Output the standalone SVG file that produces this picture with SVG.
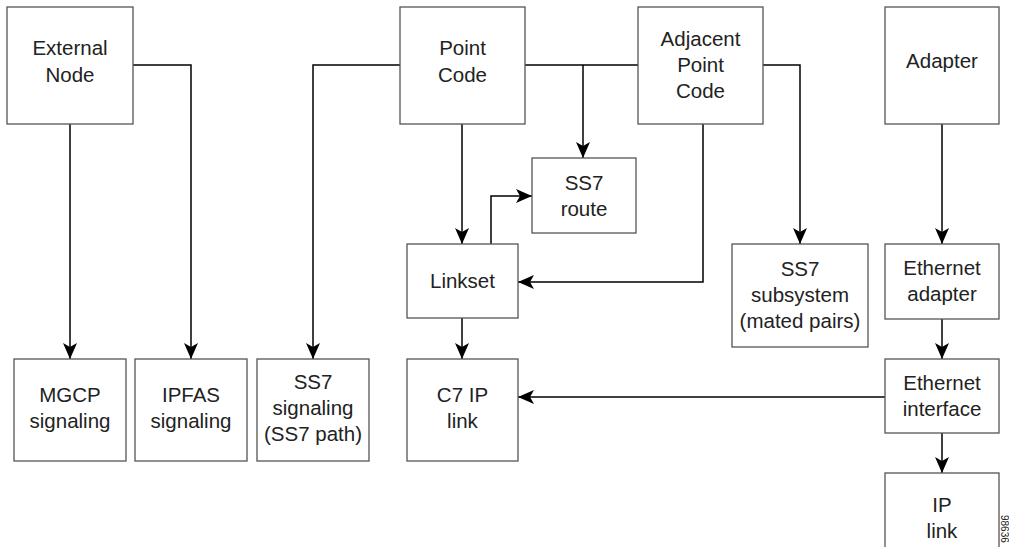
<svg xmlns="http://www.w3.org/2000/svg" width="1009" height="547" viewBox="0 0 1009 547">
<defs>
<style>
.box{fill:#fff;stroke:#555;stroke-width:1.3}
.lbl{font-family:"Liberation Sans",Arial,sans-serif;font-size:20.5px;fill:#222;text-anchor:middle}
.con{fill:none;stroke:#000;stroke-width:1.5}
.fig{font-family:"Liberation Sans",Arial,sans-serif;font-size:10px;fill:#222}
</style>
<marker id="ah" viewBox="0 0 16 14" refX="16" refY="7" markerWidth="16" markerHeight="14" markerUnits="userSpaceOnUse" orient="auto">
<path d="M0,0 L16,7 L0,14 L4,7 z" fill="#000"/>
</marker>
</defs>
<rect width="1009" height="547" fill="#fff"/>
<g id="connectors">
<path class="con" d="M70,124 V359" marker-end="url(#ah)"/>
<path class="con" d="M133,65 H191 V359" marker-end="url(#ah)"/>
<path class="con" d="M400,65 H313 V359" marker-end="url(#ah)"/>
<path class="con" d="M525,65 H638"/>
<path class="con" d="M583,65 V158" marker-end="url(#ah)"/>
<path class="con" d="M462,124 V244" marker-end="url(#ah)"/>
<path class="con" d="M491,244 V196 H532" marker-end="url(#ah)"/>
<path class="con" d="M703,124 V282 H518" marker-end="url(#ah)"/>
<path class="con" d="M763,65 H800 V244" marker-end="url(#ah)"/>
<path class="con" d="M462,318 V359" marker-end="url(#ah)"/>
<path class="con" d="M942,124 V244" marker-end="url(#ah)"/>
<path class="con" d="M942,319 V359" marker-end="url(#ah)"/>
<path class="con" d="M885,397 H518" marker-end="url(#ah)"/>
<path class="con" d="M942,433 V473" marker-end="url(#ah)"/>
</g>
<g id="external-node"><rect class="box" x="7" y="7" width="126" height="117"/><text class="lbl" x="70" y="55">External</text><text class="lbl" x="70" y="82">Node</text></g>
<g id="point-code"><rect class="box" x="400" y="7" width="125" height="117"/><text class="lbl" x="462.5" y="55">Point</text><text class="lbl" x="462.5" y="82">Code</text></g>
<g id="adjacent-point-code"><rect class="box" x="638" y="7" width="125" height="117"/><text class="lbl" x="700.5" y="46">Adjacent</text><text class="lbl" x="700.5" y="72">Point</text><text class="lbl" x="700.5" y="98">Code</text></g>
<g id="adapter"><rect class="box" x="885" y="7" width="114" height="117"/><text class="lbl" x="942" y="68">Adapter</text></g>
<g id="ss7-route"><rect class="box" x="532" y="158" width="104" height="75"/><text class="lbl" x="584" y="190">SS7</text><text class="lbl" x="584" y="216">route</text></g>
<g id="linkset"><rect class="box" x="407" y="244" width="111" height="74"/><text class="lbl" x="462.5" y="288">Linkset</text></g>
<g id="ss7-subsystem"><rect class="box" x="732" y="244" width="136" height="103"/><text class="lbl" x="800" y="276">SS7</text><text class="lbl" x="800" y="302">subsystem</text><text class="lbl" x="800" y="328">(mated pairs)</text></g>
<g id="ethernet-adapter"><rect class="box" x="885" y="244" width="114" height="75"/><text class="lbl" x="942" y="275">Ethernet</text><text class="lbl" x="942" y="301">adapter</text></g>
<g id="mgcp-signaling"><rect class="box" x="14" y="359" width="112" height="102"/><text class="lbl" x="70" y="402">MGCP</text><text class="lbl" x="70" y="428">signaling</text></g>
<g id="ipfas-signaling"><rect class="box" x="135" y="359" width="112" height="102"/><text class="lbl" x="191" y="402">IPFAS</text><text class="lbl" x="191" y="428">signaling</text></g>
<g id="ss7-signaling"><rect class="box" x="257" y="359" width="112" height="102"/><text class="lbl" x="313" y="389">SS7</text><text class="lbl" x="313" y="415">signaling</text><text class="lbl" x="313" y="441">(SS7 path)</text></g>
<g id="c7-ip-link"><rect class="box" x="407" y="359" width="111" height="102"/><text class="lbl" x="462.5" y="402">C7 IP</text><text class="lbl" x="462.5" y="428">link</text></g>
<g id="ethernet-interface"><rect class="box" x="885" y="359" width="114" height="74"/><text class="lbl" x="942" y="390">Ethernet</text><text class="lbl" x="942" y="416">interface</text></g>
<g id="ip-link"><rect class="box" x="885" y="473" width="114" height="100"/><text class="lbl" x="942" y="512">IP</text><text class="lbl" x="942" y="538">link</text></g>
<text class="fig" transform="translate(1001,515) rotate(90)">98636</text>
</svg>
